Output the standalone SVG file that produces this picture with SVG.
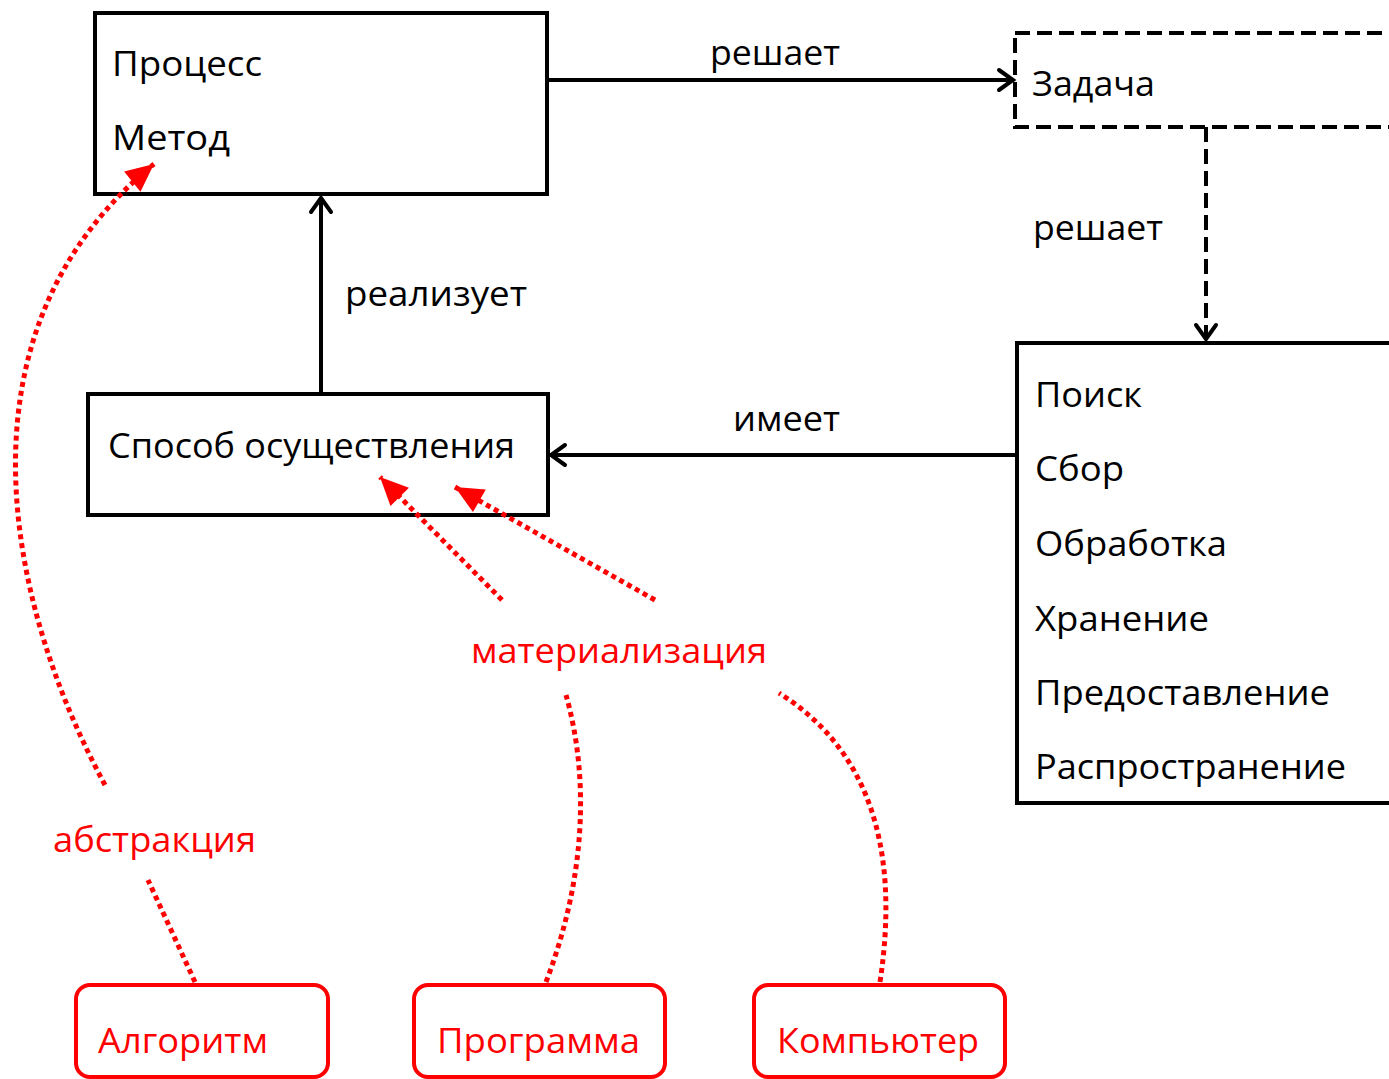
<svg xmlns="http://www.w3.org/2000/svg" width="1389" height="1079" viewBox="0 0 1389 1079">
  <style>
    .box { fill: #ffffff; stroke: #000000; stroke-width: 4; }
    .dash { stroke-dasharray: 15 7; }
    .rbox { fill: #ffffff; stroke: #ff0000; stroke-width: 4; }
    .t { font-family: "Open Sans", "Noto Sans", "DejaVu Sans", sans-serif; font-size: 35px; fill: #000000; }
    .r { fill: #ff0000; }
    .link { fill: none; stroke: #000000; stroke-width: 4; }
    .dot { fill: none; stroke: #ff0000; stroke-width: 5; stroke-dasharray: 5 4; }
  </style>
  <defs>
    <marker id="chev" markerUnits="userSpaceOnUse" viewBox="-20 -15 30 30" markerWidth="30" markerHeight="30" refX="0" refY="0" orient="auto" overflow="visible">
      <path d="M-14,-10 L0,0 L-14,10" fill="none" stroke="#000000" stroke-width="4" stroke-linejoin="miter" stroke-linecap="round"/>
    </marker>
    <marker id="tri" markerUnits="userSpaceOnUse" viewBox="-32 -16 37 32" markerWidth="37" markerHeight="32" refX="0" refY="0" orient="auto" overflow="visible">
      <path d="M0,0 L-28,-13 L-28,13 Z" fill="#ff0000"/>
    </marker>
  </defs>

  <g id="node-process">
    <rect class="box" x="95" y="13" width="452" height="181"/>
    <text class="t" x="112" y="76" textLength="150" lengthAdjust="spacingAndGlyphs">Процесс</text>
    <text class="t" x="112" y="150" textLength="118" lengthAdjust="spacingAndGlyphs">Метод</text>
  </g>

  <g id="node-task">
    <rect class="box dash" x="1015" y="33" width="400" height="94"/>
    <text class="t" x="1032" y="96" textLength="123" lengthAdjust="spacingAndGlyphs">Задача</text>
  </g>

  <g id="node-operations">
    <rect class="box" x="1017" y="343" width="400" height="460"/>
    <text class="t" x="1035" y="407" textLength="107" lengthAdjust="spacingAndGlyphs">Поиск</text>
    <text class="t" x="1035" y="481" textLength="89" lengthAdjust="spacingAndGlyphs">Сбор</text>
    <text class="t" x="1035" y="556" textLength="192" lengthAdjust="spacingAndGlyphs">Обработка</text>
    <text class="t" x="1035" y="631" textLength="174" lengthAdjust="spacingAndGlyphs">Хранение</text>
    <text class="t" x="1035" y="705" textLength="295" lengthAdjust="spacingAndGlyphs">Предоставление</text>
    <text class="t" x="1035" y="779" textLength="311" lengthAdjust="spacingAndGlyphs">Распространение</text>
  </g>

  <g id="node-way">
    <rect class="box" x="88" y="394" width="460" height="121"/>
    <text class="t" x="108" y="458" textLength="407" lengthAdjust="spacingAndGlyphs">Способ осуществления</text>
  </g>

  <g id="node-algorithm">
    <rect class="rbox" x="76" y="985" width="252" height="92" rx="14"/>
    <text class="t r" x="98" y="1053" textLength="170" lengthAdjust="spacingAndGlyphs">Алгоритм</text>
  </g>

  <g id="node-program">
    <rect class="rbox" x="414" y="985" width="251" height="92" rx="14"/>
    <text class="t r" x="437" y="1053" textLength="203" lengthAdjust="spacingAndGlyphs">Программа</text>
  </g>

  <g id="node-computer">
    <rect class="rbox" x="754" y="985" width="251" height="92" rx="14"/>
    <text class="t r" x="777" y="1053" textLength="202" lengthAdjust="spacingAndGlyphs">Компьютер</text>
  </g>

  <!-- connectors, drawn over the boxes so the red heads show inside them -->
  <g id="connectors">
    <path class="link" d="M547,80 L1013,80" marker-end="url(#chev)"/>
    <path class="link dash" d="M1206,127 L1206,339" marker-end="url(#chev)"/>
    <path class="link" d="M1017,455 L551,455" marker-end="url(#chev)"/>
    <path class="link" d="M321,394 L321,198" marker-end="url(#chev)"/>

    <!-- abstraction: Алгоритм -> Метод -->
    <path class="dot" d="M195,982 L148,880"/>
    <path class="dot" d="M105,785 C5,600 -50,330 154,164" marker-end="url(#tri)"/>

    <!-- materialisation: Программа, Компьютер -> Способ осуществления -->
    <path class="dot" d="M546,982 C585,880 590,780 566,695"/>
    <path class="dot" d="M880,982 C900,850 870,750 779,693"/>
    <path class="dot" d="M502,600 L380,477" marker-end="url(#tri)"/>
    <path class="dot" d="M655,600 L455,487" marker-end="url(#tri)"/>
  </g>

  <g id="edge-labels">
    <text class="t" x="710" y="65" textLength="130" lengthAdjust="spacingAndGlyphs">решает</text>
    <text class="t" x="1033" y="240" textLength="130" lengthAdjust="spacingAndGlyphs">решает</text>
    <text class="t" x="345" y="306" textLength="182" lengthAdjust="spacingAndGlyphs">реализует</text>
    <text class="t" x="733" y="431" textLength="107" lengthAdjust="spacingAndGlyphs">имеет</text>
    <text class="t r" x="471" y="663" textLength="296" lengthAdjust="spacingAndGlyphs">материализация</text>
    <text class="t r" x="53" y="852" textLength="203" lengthAdjust="spacingAndGlyphs">абстракция</text>
  </g>
</svg>
